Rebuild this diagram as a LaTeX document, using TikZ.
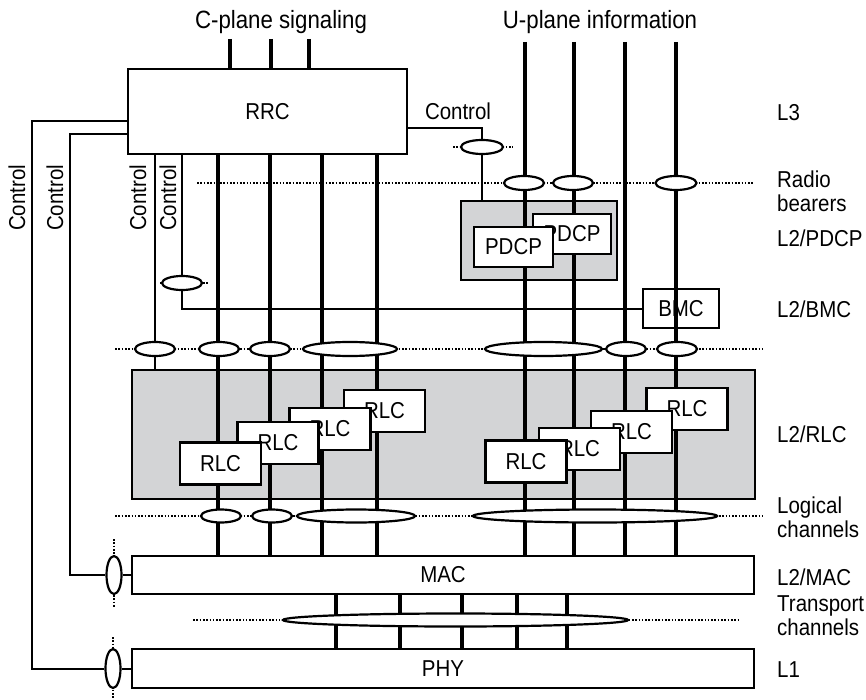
\documentclass[tikz,border=0pt]{standalone}
\usepackage{fontspec}
\setmainfont[FakeStretch=0.89]{Liberation Sans}
\usetikzlibrary{shapes.geometric}
\definecolor{boxgray}{RGB}{211,212,214}
\begin{document}
\begin{tikzpicture}[x=1pt,y=-1pt,
  lbl/.style={font=\fontsize{23}{25}\selectfont, inner sep=0pt},
  toplbl/.style={font=\fontsize{25}{27}\selectfont, inner sep=0pt},
  blk/.style={draw, line width=2.2pt, fill=white, inner sep=0pt, lbl},
  grayblk/.style={draw, line width=2.2pt, fill=boxgray, inner sep=0pt},
  rlcbox/.style={blk, minimum width=81pt, minimum height=42pt},
  thk/.style={line width=3.3pt},
  thn/.style={line width=2pt},
  dotl/.style={line width=1.6pt, dash pattern=on 1.6pt off 1.7pt},
  ell/.style={ellipse, draw, fill=white, line width=2.2pt, inner sep=0pt, minimum height=14pt},
  side/.style={lbl, anchor=west, align=left, font=\fontsize{23}{24}\selectfont}
]
\useasboundingbox (0,0) rectangle (866,700);

% x positions of channels
\foreach \n/\x in {xa/155,xb/182,xc/482,x1/218,x2/270,x3/322,x4/377,u1/525,u2/574,u3/625,u4/676,
                   cp1/230,cp2/271,cp3/309,t1/336,t2/400,t3/462,t4/517,t5/567,lo/32,li/70}
  \coordinate (\n) at (\x,0);

% big boxes
\node[grayblk, minimum width=156pt, minimum height=79pt] (pdcpg) at (539,240.5) {};
\node[grayblk, minimum width=623pt, minimum height=129pt] (rlcg) at (443.5,434.5) {};
\node[blk, minimum width=279pt, minimum height=85pt] (rrc) at (267.5,111.5) {RRC};
\node[blk, minimum width=76pt, minimum height=39pt] (bmc) at (681,308.5) {BMC};
\node[blk, minimum width=622pt, minimum height=38pt] (mac) at (443,575) {MAC};
\node[blk, minimum width=622pt, minimum height=39pt] (phy) at (443,668.5) {PHY};

% dotted lines
\coordinate (rbL) at (197,183); \coordinate (rbR) at (753,183);
\coordinate (ctL) at (453,147); \coordinate (ctR) at (513,147);
\coordinate (bcL) at (160,283); \coordinate (bcR) at (208,283);
\coordinate (lgL) at (115,349); \coordinate (lgR) at (762,349);
\coordinate (lhL) at (115,516); \coordinate (lhR) at (762,516);
\coordinate (trL) at (193,620); \coordinate (trR) at (740,620);
\coordinate (mvT) at (114,539); \coordinate (mvB) at (114,608);
\coordinate (pvT) at (113,637); \coordinate (pvB) at (113,700);
\foreach \a/\b in {rbL/rbR,ctL/ctR,bcL/bcR,lgL/lgR,lhL/lhR,trL/trR,mvT/mvB,pvT/pvB}
  \draw[dotl] (\a) -- (\b);

% top signalling lines
\coordinate (cpT) at (0,39);
\coordinate (upT) at (0,42);
\foreach \c in {cp1,cp2,cp3}
  \draw[thk] (cpT -| \c) -- (rrc.north -| \c);
\foreach \c in {u1,u2,u3,u4}
  \draw[thk] (upT -| \c) -- (mac.north -| \c);
\foreach \c in {x1,x2,x3,x4}
  \draw[thk] (rrc.south -| \c) -- (mac.north -| \c);
\foreach \c in {t1,t2,t3,t4,t5}
  \draw[thk] (mac.south -| \c) -- (phy.north -| \c);

% control lines
\draw[thn] (rrc.south -| xa) -- (rlcg.north -| xa);
\draw[thn] (rrc.south -| xb) |- (bmc.west);
\draw[thn] ([yshift=-16.5pt]rrc.east) -| (pdcpg.north -| xc);

% ellipses
\node[ell, minimum width=42pt] (ec) at (482,147) {};
\node[ell, minimum width=40pt] (rb1) at (524,183) {};
\node[ell, minimum width=40pt] (rb2) at (573,183) {};
\node[ell, minimum width=41pt] (rb3) at (676,183) {};
\node[ell, minimum width=40pt] (eb) at (182,283) {};
\node[ell, minimum width=40pt] (la1) at (155,349) {};
\node[ell, minimum width=40pt] (la2) at (219,349) {};
\node[ell, minimum width=40pt] (la3) at (270,349) {};
\node[ell, minimum width=94pt] (la4) at (350,349) {};
\node[ell, minimum width=117pt] (la5) at (543.5,349) {};
\node[ell, minimum width=40pt] (la6) at (626,349) {};
\node[ell, minimum width=40pt] (la7) at (677,349) {};
\node[ell, minimum width=40pt, minimum height=13pt] (lb1) at (221,516) {};
\node[ell, minimum width=40pt, minimum height=13pt] (lb2) at (272,516) {};
\node[ell, minimum width=118pt, minimum height=13pt] (lb3) at (356,516) {};
\node[ell, minimum width=244pt, minimum height=13pt] (lb4) at (595,516) {};
\node[ell, minimum width=345pt, minimum height=13pt] (tr) at (455.5,620) {};
\node[ell, minimum width=15pt, minimum height=38pt] (em) at (114,575) {};
\node[ell, minimum width=15pt, minimum height=39pt] (ep) at (113,668.5) {};

% left control lines
\draw[thn] ([yshift=-9.5pt]rrc.west) -| (lo |- ep.west) -- (ep.west);
\draw[thn] (ep.east) -- (phy.west |- ep.east);
\draw[thn] ([yshift=-22.5pt]rrc.west) -| (li |- em.west) -- (em.west);
\draw[thn] (em.east) -- (mac.west |- em.east);

% PDCP boxes
\node[blk, minimum width=78pt, minimum height=40pt] (pdcp2) at (572,234) {PDCP};
\node[blk, minimum width=79pt, minimum height=40pt] (pdcp1) at (513.5,247) {PDCP};

% RLC boxes, back to front
\node[rlcbox] (rlc4) at (384.5,411) {RLC};
\node[rlcbox] (rlc3) at (330,429) {RLC};
\node[rlcbox] (rlc2) at (278,443) {RLC};
\node[rlcbox] (rlc1) at (220.5,463.5) {RLC};
\node[rlcbox] (rlc8) at (687,409) {RLC};
\node[rlcbox] (rlc7) at (631.5,432) {RLC};
\node[rlcbox] (rlc6) at (579.5,449) {RLC};
\node[rlcbox] (rlc5) at (526,461.5) {RLC};

% texts
\node[toplbl] (tcp) at (281,22) {C-plane signaling};
\node[toplbl] (tup) at (600,22) {U-plane information};
\node[lbl] (tctl) at (458,111) {Control};
\node[lbl, rotate=90] (c1) at (17,198) {Control};
\node[lbl, rotate=90] (c2) at (55,198) {Control};
\node[lbl, rotate=90] (c3) at (138,198) {Control};
\node[lbl, rotate=90] (c4) at (168,198) {Control};

\node[side] (s1) at (777,113) {L3};
\node[side] (s2) at (777,191) {Radio\\bearers};
\node[side] (s3) at (777,238) {L2/PDCP};
\node[side] (s4) at (777,309) {L2/BMC};
\node[side] (s5) at (777,434) {L2/RLC};
\node[side] (s6) at (777,517) {Logical\\channels};
\node[side] (s7) at (777,577) {L2/MAC};
\node[side] (s8) at (777,616) {Transport\\channels};
\node[side] (s9) at (777,670) {L1};
\end{tikzpicture}
\end{document}
